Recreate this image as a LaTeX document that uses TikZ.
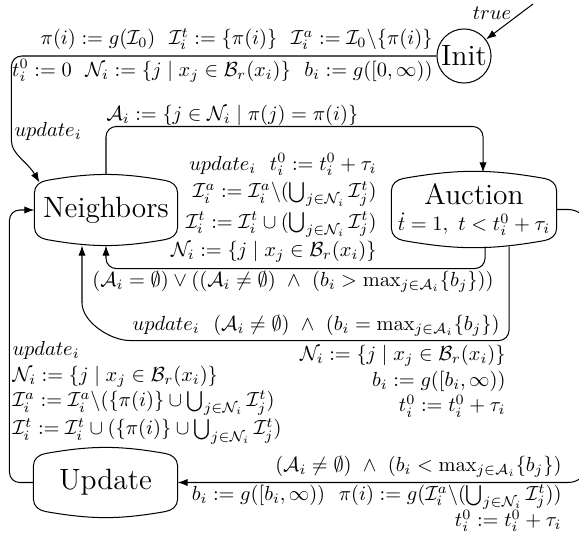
\documentclass[tikz,border=0pt]{standalone}
\usepackage{amsmath,amssymb}
\usetikzlibrary{arrows.meta,calc}
\newcommand{\bowbox}[1]{%
  \draw ($(#1.north west)+(0,18)$) to[out=90,in=190] ($(#1.north west)+(12,6)$)
    to[out=10,in=170] ($(#1.north east)+(-12,6)$)
    to[out=-10,in=90] ($(#1.north east)+(0,18)$)
    -- ($(#1.south east)+(0,-18)$) to[out=-90,in=10] ($(#1.south east)+(-12,-6)$)
    to[out=190,in=-10] ($(#1.south west)+(12,-6)$)
    to[out=170,in=-90] ($(#1.south west)+(0,-18)$) -- cycle;}
\begin{document}
\begin{tikzpicture}[x=0.49pt,y=-0.49pt, line width=0.5pt,
  every node/.style={inner sep=0pt},
  edge/.style={-{Latex[length=5pt,width=3.6pt]}, rounded corners=5pt},
  lbl/.style={inner sep=0.5pt}]
\useasboundingbox (0,0) rectangle (579,542);
\clip (0,0) rectangle (579,542);
% states
\node[circle, draw, minimum size=26.5pt] (I) at (464,56) {\Large Init};
\node[minimum width=69.6pt, minimum height=34.3pt] (N) at (106,210) {\Large Neighbors};
\node[minimum width=80.4pt, minimum height=35.8pt, align=center] (A) at (474,209.5) {{\Large Auction}\\[1pt] $\dot{t}=1,\ t<t_i^0+\tau_i$};
\node[minimum width=70.1pt, minimum height=33.8pt] (U) at (105.5,482.5) {\Large Update};
\bowbox{N}
\bowbox{A}
\bowbox{U}
% initial arrow
\coordinate (s) at (533,4);
\draw[edge] (s) -- (I);
\node[lbl] (ltrue) at (492,13) {$true$};
% edges
\draw[edge] (I.west) -- ++(-425,0) -- ++(0,75) to[out=-90,in=120] ($(N.north west)+(5,8)$);
\draw[edge] (N.north) -- ++(0,-48) -| ($(A.north)+(9,0)$);
\draw[edge] ($(A.south)+(11,0)$) -- ++(0,22) -| (N.south);
\draw[edge] ($(A.south)+(35,0)$) -- ++(0,94) -- ($(N.south)+(34,95)$) to[out=180,in=-90] ($(N.south)+(-24,47)$) -- ($(N.south)+(-24,0)$);
\draw[edge, rounded corners=10pt] (A.east) -- ++(32,0) |- (U.east);
\draw[edge] (U.west) -- ++(-24,0) |- (N.west);
% labels
\node[lbl, anchor=east] (t1) at (434,39) {$\pi(i) := g(\mathcal{I}_0)\ \ \mathcal{I}_i^t := \{\pi(i)\}\ \ \mathcal{I}_i^a := \mathcal{I}_0\backslash\{\pi(i)\}$};
\node[lbl, anchor=east] (t2) at (434,71) {$t_i^0 := 0\ \ \mathcal{N}_i := \{j \mid x_j \in \mathcal{B}_r(x_i)\}\ \ b_i := g([0,\infty))$};
\node[lbl, anchor=west] (t3) at (13,131) {$update_i$};
\node[lbl, anchor=west] (t4) at (105,115) {$\mathcal{A}_i := \{j \in \mathcal{N}_i \mid \pi(j) = \pi(i)\}$};
\node[lbl, anchor=south east, align=right] (t5) at (378,264) {$update_i\ \ t_i^0 := t_i^0+\tau_i$\\[1.5pt] $\mathcal{I}_i^a := \mathcal{I}_i^a\backslash(\bigcup_{j\in\mathcal{N}_i}\mathcal{I}_j^t)$\\[1.5pt] $\mathcal{I}_i^t := \mathcal{I}_i^t\cup(\bigcup_{j\in\mathcal{N}_i}\mathcal{I}_j^t)$\\[2pt] $\mathcal{N}_i := \{j \mid x_j\in\mathcal{B}_r(x_i)\}$};
\node[lbl] (t6) at (293,282) {$(\mathcal{A}_i=\emptyset)\vee((\mathcal{A}_i\neq\emptyset)\ \wedge\ (b_i>\max_{j\in\mathcal{A}_i}\{b_j\}))$};
\node[lbl, anchor=east] (t7) at (501,326) {$update_i\ \ (\mathcal{A}_i\neq\emptyset)\ \wedge\ (b_i=\max_{j\in\mathcal{A}_i}\{b_j\})$};
\node[lbl, anchor=north east, align=right] (t8) at (507,344) {$\mathcal{N}_i := \{j\mid x_j\in\mathcal{B}_r(x_i)\}$\\[0.5pt] $b_i := g([b_i,\infty))$\\[0.5pt] $t_i^0 := t_i^0+\tau_i$};
\node[lbl, anchor=east] (t9) at (563,467) {$(\mathcal{A}_i\neq\emptyset)\ \wedge\ (b_i<\max_{j\in\mathcal{A}_i}\{b_j\})$};
\node[lbl, anchor=east] (t10) at (563,497) {$b_i := g([b_i,\infty))\ \ \pi(i) := g(\mathcal{I}_i^a\backslash(\bigcup_{j\in\mathcal{N}_i}\mathcal{I}_j^t))$};
\node[lbl, anchor=east] (t11) at (563,521) {$t_i^0 := t_i^0+\tau_i$};
\node[lbl, anchor=north west, align=left] (t12) at (11,340) {$update_i$\\[0.5pt] $\mathcal{N}_i := \{j\mid x_j\in\mathcal{B}_r(x_i)\}$\\[0.5pt] $\mathcal{I}_i^a := \mathcal{I}_i^a\backslash(\{\pi(i)\}\cup\bigcup_{j\in\mathcal{N}_i}\mathcal{I}_j^t)$\\[0.5pt] $\mathcal{I}_i^t := \mathcal{I}_i^t\cup(\{\pi(i)\}\cup\bigcup_{j\in\mathcal{N}_i}\mathcal{I}_j^t)$};
\end{tikzpicture}
\end{document}
